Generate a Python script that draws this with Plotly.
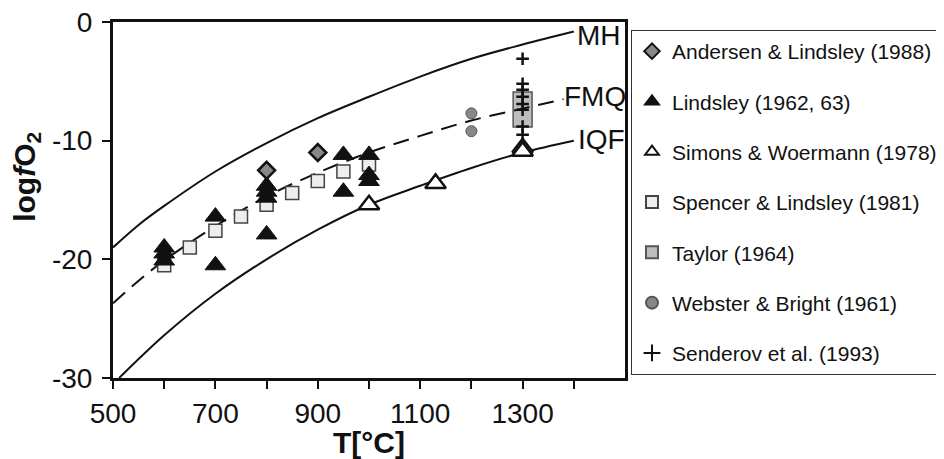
import plotly.graph_objects as go

# ---- buffer curves ----
T_mh = [500, 550, 600, 700, 800, 900, 1000, 1100, 1200, 1300, 1400]
MH = [-19.0, -17.1, -15.5, -12.6, -10.2, -8.1, -6.3, -4.6, -3.1, -1.9, -0.8]
T_fmq = [500, 550, 600, 700, 800, 900, 1000, 1100, 1200, 1300, 1380]
FMQ = [-23.7, -21.8, -20.1, -17.2, -14.7, -12.7, -11.0, -9.6, -8.3, -7.3, -6.5]
T_iqf = [512, 600, 700, 800, 900, 1000, 1100, 1200, 1300, 1400]
IQF = [-30.0, -26.4, -22.9, -20.0, -17.5, -15.4, -13.8, -12.3, -11.0, -10.0]

# ---- experimental data ----
andersen_T = [800, 900]
andersen_f = [-12.5, -11.0]
lindsley_T = [600, 600, 600, 700, 700, 800, 800, 800, 800, 950, 950, 1000, 1000, 1000]
lindsley_f = [-19.0, -19.5, -20.1, -16.4, -20.5, -13.8, -14.3, -14.8, -17.9, -11.2, -14.3, -11.2, -12.9, -13.4]
simons_T = [1000, 1130, 1300, 1300]
simons_f = [-15.4, -13.6, -10.6, -10.9]
spencer_T = [600, 650, 700, 750, 800, 850, 900, 950, 1000]
spencer_f = [-20.5, -19.0, -17.6, -16.4, -15.4, -14.4, -13.4, -12.6, -12.0]
taylor_T = [1300]
taylor_low = [-8.85]
taylor_high = [-5.9]
webster_T = [1200, 1200]
webster_f = [-7.7, -9.2]
senderov_T = [1300] * 8
senderov_f = [-3.1, -5.2, -5.7, -6.3, -6.9, -7.4, -8.8, -9.5]

buffer_labels = ["MH", "FMQ", "IQF"]
buffer_label_T = [1402, 1376, 1404]
buffer_label_f = [-1.1, -6.3, -9.9]

x_tickvals = [500, 700, 900, 1100, 1300]
x_minorvals = [600, 800, 1000, 1200, 1400]
y_tickvals = [0, -10, -20, -30]
y_ticktext = ["0", "-10", "-20", "-30"]

FONT = "Liberation Sans, Arial, Helvetica, sans-serif"

fig = go.Figure()

fig.add_trace(go.Scatter(x=T_mh, y=MH, mode="lines", line=dict(color="#111", width=2, shape="spline"),
                         showlegend=False, hoverinfo="skip"))
fig.add_trace(go.Scatter(x=T_fmq, y=FMQ, mode="lines", line=dict(color="#111", width=2, dash="16px,9px", shape="spline"),
                         showlegend=False, hoverinfo="skip"))
fig.add_trace(go.Scatter(x=T_iqf, y=IQF, mode="lines", line=dict(color="#111", width=2, shape="spline"),
                         showlegend=False, hoverinfo="skip"))

# Taylor box (bar)
fig.add_trace(go.Bar(x=taylor_T, y=[h - l for h, l in zip(taylor_high, taylor_low)], base=taylor_low,
                     width=37, marker=dict(color="#bdbdbd", line=dict(color="#555", width=1.5)),
                     name="Taylor (1964)", legendgroup="e", legendrank=5))

fig.add_trace(go.Scatter(x=spencer_T, y=spencer_f, mode="markers", name="Spencer & Lindsley (1981)",
                         marker=dict(symbol="square", size=13, color="#eeeeee", line=dict(color="#444", width=1.5)),
                         legendgroup="d", legendrank=4))
fig.add_trace(go.Scatter(x=webster_T, y=webster_f, mode="markers", name="Webster & Bright (1961)",
                         marker=dict(symbol="circle", size=11, color="#888888", line=dict(color="#555", width=1)),
                         legendgroup="f", legendrank=6))
fig.add_trace(go.Scatter(x=simons_T, y=simons_f, mode="markers", name="Simons & Woermann (1978)",
                         marker=dict(symbol="triangle-up", size=18, color="white", line=dict(color="#111", width=2.5)),
                         legendgroup="c", legendrank=3))
fig.add_trace(go.Scatter(x=lindsley_T, y=lindsley_f, mode="markers", name="Lindsley (1962, 63)",
                         marker=dict(symbol="triangle-up", size=18, color="#111", line=dict(color="#111", width=1)),
                         legendgroup="b", legendrank=2))
fig.add_trace(go.Scatter(x=andersen_T, y=andersen_f, mode="markers", name="Andersen & Lindsley (1988)",
                         marker=dict(symbol="diamond", size=13, color="#888888", line=dict(color="#111", width=2.5)),
                         legendgroup="a", legendrank=1))
fig.add_trace(go.Scatter(x=senderov_T, y=senderov_f, mode="markers", name="Senderov et al. (1993)",
                         marker=dict(symbol="cross-thin", size=9, color="#111", line=dict(color="#111", width=2.5)),
                         legendgroup="g", legendrank=7))

for lab, xt, yt in zip(buffer_labels, buffer_label_T, buffer_label_f):
    fig.add_annotation(x=xt, y=yt, text=lab, showarrow=False, xanchor="left", yanchor="middle",
                       font=dict(family=FONT, size=28, color="#111"))

fig.add_annotation(xref="paper", yref="paper", x=-0.168, y=0.565, text="<b>log<i>f</i>O<sub>2</sub></b>",
                   textangle=-90, showarrow=False, xanchor="center", yanchor="middle",
                   font=dict(family=FONT, size=30, color="#111"))

# page body has an 8px default margin: figure is sized/offset to compensate
fig.update_layout(
    width=936, height=451,
    margin=dict(l=105, r=319, t=14, b=81, autoexpand=False),
    paper_bgcolor="white", plot_bgcolor="white",
    font=dict(family=FONT, color="#111"),
    barmode="overlay",
    legend=dict(x=1.0117, y=0.9775, xanchor="left", yanchor="top", bgcolor="white",
                bordercolor="#333", borderwidth=1, font=dict(family=FONT, size=21, color="#111"),
                itemsizing="constant", tracegroupgap=20, itemwidth=30),
)
fig.update_xaxes(range=[500, 1500], tickvals=x_tickvals, ticks="outside", ticklen=8,
                 tickwidth=1.5, tickcolor="#111", showline=True, linewidth=3, linecolor="#111", mirror=True,
                 minor=dict(tickvals=x_minorvals, ticks="outside", ticklen=8, tickwidth=1.5, tickcolor="#111"),
                 showgrid=False, zeroline=False, tickfont=dict(family=FONT, size=28, color="#111"),
                 ticklabelstandoff=0, ticklabeloverflow="allow",
                 title=dict(text="<b>T[°C]</b>", font=dict(family=FONT, size=30, color="#111"), standoff=0))
fig.update_yaxes(range=[-30, 0], tickvals=y_tickvals, ticktext=y_ticktext, ticks="outside", ticklen=8,
                 tickwidth=1.5, tickcolor="#111", ticklabeloverflow="allow",
                 showline=True, linewidth=3, linecolor="#111", mirror=True, showgrid=False, zeroline=False,
                 tickfont=dict(family=FONT, size=28, color="#111"), ticklabelstandoff=4)

fig.write_html("out.html")
